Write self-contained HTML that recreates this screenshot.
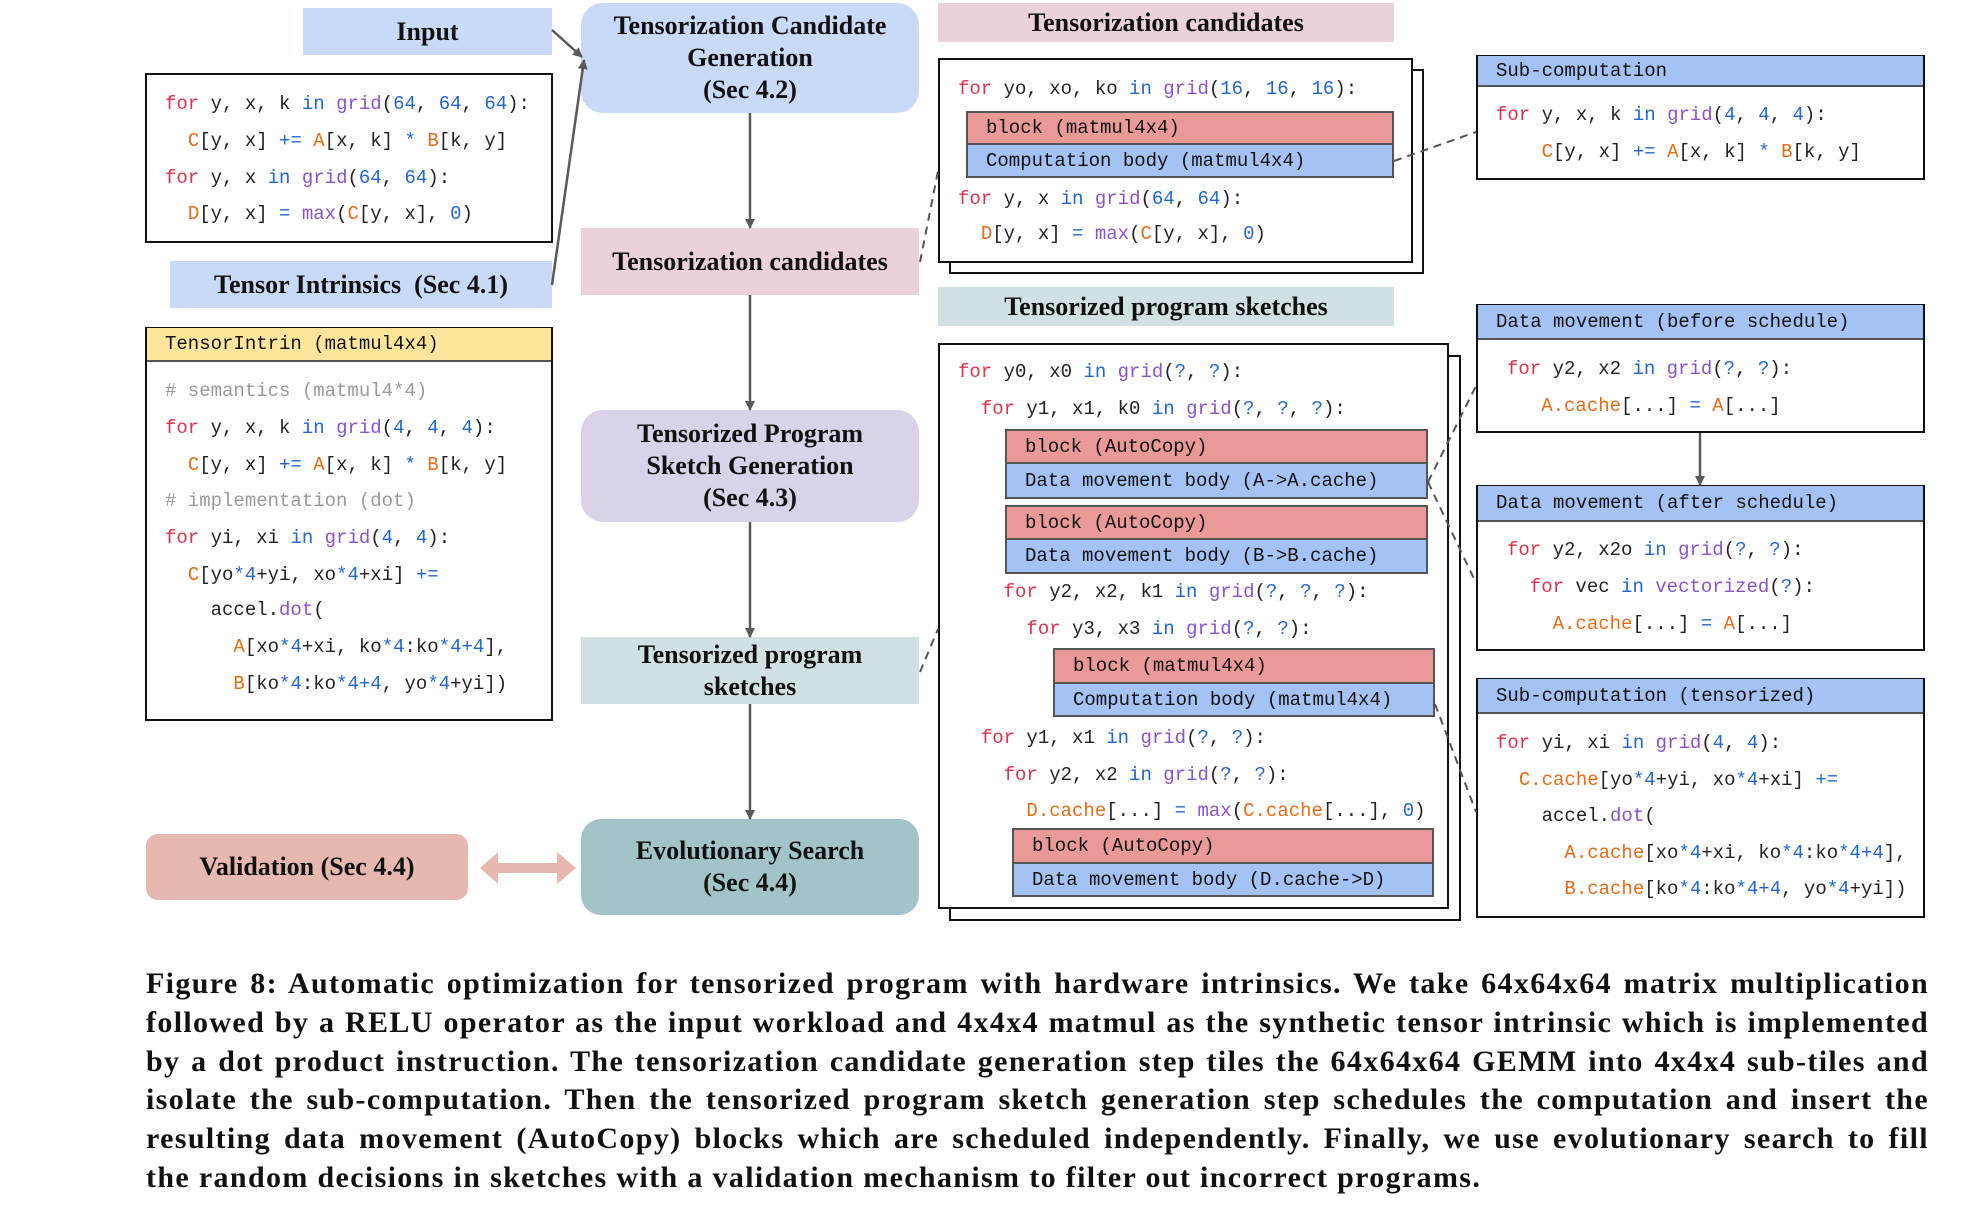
<!DOCTYPE html>
<html><head><meta charset="utf-8">
<style>
*{margin:0;padding:0;box-sizing:border-box}
body{width:1983px;height:1218px;background:#fff;position:relative;overflow:hidden;font-family:"Liberation Serif",serif}
.a{position:absolute}
.lbl{position:absolute;display:flex;align-items:center;justify-content:center;text-align:center;font-family:"Liberation Serif",serif;font-weight:bold;font-size:26px;line-height:32px;color:#111}
.box{position:absolute;border:2.5px solid #111;background:#fff}
.l{position:absolute;height:24px;line-height:24px;white-space:pre;font-family:"Liberation Mono",monospace;font-size:19px;color:#222}
.blk{position:absolute;border:2.5px solid #555;}
.r{background:#ea9999}.b{background:#a4c2f4}
.row{position:absolute;left:0;right:0;white-space:pre;font-family:"Liberation Mono",monospace;font-size:19px;color:#111;display:flex;align-items:center;padding-left:18px}
.hdr{position:absolute;left:0;right:0;top:0;border-bottom:2.5px solid #555;white-space:pre;font-family:"Liberation Mono",monospace;font-size:19px;color:#111;display:flex;align-items:center;padding-left:18px}
.k{color:#e0304c}.i{color:#1f66d6}.f{color:#8a52d0}.n{color:#1f66d6}.v{color:#ec6a12}.c{color:#9a9a9a}
.cap{position:absolute;left:146px;width:1783px;font-family:"Liberation Serif",serif;font-weight:bold;font-size:30px;letter-spacing:1.35px;line-height:39px;color:#111;text-align:justify;text-align-last:justify;white-space:nowrap}
</style></head><body>

<!-- left column -->
<div class="lbl" style="left:303px;top:8px;width:249px;height:47px;background:#c9daf8">Input</div>
<div class="box" style="left:145px;top:73px;width:408px;height:170px"></div>
<div class="l" style="left:165px;top:92px"><span class="k">for</span> y, x, k <span class="i">in</span> <span class="f">grid</span>(<span class="n">64</span>, <span class="n">64</span>, <span class="n">64</span>):</div>
<div class="l" style="left:165px;top:129px">  <span class="v">C</span>[y, x] <span class="i">+=</span> <span class="v">A</span>[x, k] <span class="i">*</span> <span class="v">B</span>[k, y]</div>
<div class="l" style="left:165px;top:166px"><span class="k">for</span> y, x <span class="i">in</span> <span class="f">grid</span>(<span class="n">64</span>, <span class="n">64</span>):</div>
<div class="l" style="left:165px;top:202px">  <span class="v">D</span>[y, x] <span class="i">=</span> <span class="f">max</span>(<span class="v">C</span>[y, x], <span class="n">0</span>)</div>

<div class="lbl" style="left:170px;top:261px;width:382px;height:47px;background:#c9daf8;white-space:pre">Tensor Intrinsics  (Sec 4.1)</div>

<div class="box" style="left:145px;top:327px;width:408px;height:394px">
 <div class="hdr" style="height:34px;background:#ffe599;top:-1px">TensorIntrin (matmul4x4)</div>
</div>
<div class="l" style="left:165px;top:379px"><span class="c"># semantics (matmul4*4)</span></div>
<div class="l" style="left:165px;top:416px"><span class="k">for</span> y, x, k <span class="i">in</span> <span class="f">grid</span>(<span class="n">4</span>, <span class="n">4</span>, <span class="n">4</span>):</div>
<div class="l" style="left:165px;top:453px">  <span class="v">C</span>[y, x] <span class="i">+=</span> <span class="v">A</span>[x, k] <span class="i">*</span> <span class="v">B</span>[k, y]</div>
<div class="l" style="left:165px;top:489px"><span class="c"># implementation (dot)</span></div>
<div class="l" style="left:165px;top:526px"><span class="k">for</span> yi, xi <span class="i">in</span> <span class="f">grid</span>(<span class="n">4</span>, <span class="n">4</span>):</div>
<div class="l" style="left:165px;top:563px">  <span class="v">C</span>[yo<span class="i">*</span><span class="n">4</span>+yi, xo<span class="i">*</span><span class="n">4</span>+xi] <span class="i">+=</span></div>
<div class="l" style="left:165px;top:598px">    accel.<span class="f">dot</span>(</div>
<div class="l" style="left:165px;top:635px">      <span class="v">A</span>[xo<span class="i">*</span><span class="n">4</span>+xi, ko<span class="i">*</span><span class="n">4</span>:ko<span class="i">*</span><span class="n">4+4</span>],</div>
<div class="l" style="left:165px;top:672px">      <span class="v">B</span>[ko<span class="i">*</span><span class="n">4</span>:ko<span class="i">*</span><span class="n">4+4</span>, yo<span class="i">*</span><span class="n">4</span>+yi])</div>

<div class="lbl" style="left:146px;top:834px;width:322px;height:66px;background:#e6b8af;border-radius:12px">Validation (Sec 4.4)</div>

<!-- middle column -->
<div class="lbl" style="left:581px;top:3px;width:338px;height:110px;background:#c9daf8;border-radius:22px">Tensorization Candidate<br>Generation<br>(Sec 4.2)</div>
<div class="lbl" style="left:581px;top:228px;width:338px;height:67px;background:#ead1dc">Tensorization candidates</div>
<div class="lbl" style="left:581px;top:410px;width:338px;height:112px;background:#d9d2e9;border-radius:22px">Tensorized Program<br>Sketch Generation<br>(Sec 4.3)</div>
<div class="lbl" style="left:581px;top:637px;width:338px;height:67px;background:#d0e0e3">Tensorized program<br>sketches</div>
<div class="lbl" style="left:581px;top:819px;width:338px;height:96px;background:#a2c4c9;border-radius:20px">Evolutionary Search<br>(Sec 4.4)</div>

<!-- right column 2 -->
<div class="lbl" style="left:938px;top:3px;width:456px;height:39px;background:#ead1dc">Tensorization candidates</div>
<div class="box" style="left:949px;top:69px;width:475px;height:205px"></div>
<div class="box" style="left:938px;top:58px;width:475px;height:205px"></div>
<div class="l" style="left:958px;top:77px"><span class="k">for</span> yo, xo, ko <span class="i">in</span> <span class="f">grid</span>(<span class="n">16</span>, <span class="n">16</span>, <span class="n">16</span>):</div>
<div class="blk r" style="left:966px;top:111px;width:428px;height:34px"><div class="row" style="top:0;bottom:0">block (matmul4x4)</div></div>
<div class="blk b" style="left:966px;top:143px;width:428px;height:35px"><div class="row" style="top:0;bottom:0">Computation body (matmul4x4)</div></div>
<div class="l" style="left:958px;top:187px"><span class="k">for</span> y, x <span class="i">in</span> <span class="f">grid</span>(<span class="n">64</span>, <span class="n">64</span>):</div>
<div class="l" style="left:958px;top:222px">  <span class="v">D</span>[y, x] <span class="i">=</span> <span class="f">max</span>(<span class="v">C</span>[y, x], <span class="n">0</span>)</div>

<div class="lbl" style="left:938px;top:287px;width:456px;height:39px;background:#d0e0e3">Tensorized program sketches</div>
<div class="box" style="left:949px;top:355px;width:512px;height:566px"></div>
<div class="box" style="left:938px;top:343px;width:511px;height:566px"></div>
<div class="l" style="left:958px;top:360px"><span class="k">for</span> y0, x0 <span class="i">in</span> <span class="f">grid</span>(<span class="n">?</span>, <span class="n">?</span>):</div>
<div class="l" style="left:958px;top:397px">  <span class="k">for</span> y1, x1, k0 <span class="i">in</span> <span class="f">grid</span>(<span class="n">?</span>, <span class="n">?</span>, <span class="n">?</span>):</div>
<div class="blk r" style="left:1005px;top:429px;width:423px;height:35px"><div class="row" style="top:0;bottom:0">block (AutoCopy)</div></div>
<div class="blk b" style="left:1005px;top:462px;width:423px;height:37px"><div class="row" style="top:0;bottom:0">Data movement body (A-&gt;A.cache)</div></div>
<div class="blk r" style="left:1005px;top:505px;width:423px;height:35px"><div class="row" style="top:0;bottom:0">block (AutoCopy)</div></div>
<div class="blk b" style="left:1005px;top:538px;width:423px;height:36px"><div class="row" style="top:0;bottom:0">Data movement body (B-&gt;B.cache)</div></div>
<div class="l" style="left:958px;top:580px">    <span class="k">for</span> y2, x2, k1 <span class="i">in</span> <span class="f">grid</span>(<span class="n">?</span>, <span class="n">?</span>, <span class="n">?</span>):</div>
<div class="l" style="left:958px;top:617px">      <span class="k">for</span> y3, x3 <span class="i">in</span> <span class="f">grid</span>(<span class="n">?</span>, <span class="n">?</span>):</div>
<div class="blk r" style="left:1053px;top:648px;width:382px;height:36px"><div class="row" style="top:0;bottom:0">block (matmul4x4)</div></div>
<div class="blk b" style="left:1053px;top:682px;width:382px;height:35px"><div class="row" style="top:0;bottom:0">Computation body (matmul4x4)</div></div>
<div class="l" style="left:958px;top:726px">  <span class="k">for</span> y1, x1 <span class="i">in</span> <span class="f">grid</span>(<span class="n">?</span>, <span class="n">?</span>):</div>
<div class="l" style="left:958px;top:763px">    <span class="k">for</span> y2, x2 <span class="i">in</span> <span class="f">grid</span>(<span class="n">?</span>, <span class="n">?</span>):</div>
<div class="l" style="left:958px;top:799px">      <span class="v">D.cache</span>[...] <span class="i">=</span> <span class="f">max</span>(<span class="v">C.cache</span>[...], <span class="n">0</span>)</div>
<div class="blk r" style="left:1012px;top:828px;width:422px;height:36px"><div class="row" style="top:0;bottom:0">block (AutoCopy)</div></div>
<div class="blk b" style="left:1012px;top:862px;width:422px;height:35px"><div class="row" style="top:0;bottom:0">Data movement body (D.cache-&gt;D)</div></div>

<!-- right column 3 -->
<div class="box" style="left:1476px;top:55px;width:449px;height:125px">
 <div class="hdr b" style="height:31px;top:-1px">Sub-computation</div>
</div>
<div class="l" style="left:1496px;top:103px"><span class="k">for</span> y, x, k <span class="i">in</span> <span class="f">grid</span>(<span class="n">4</span>, <span class="n">4</span>, <span class="n">4</span>):</div>
<div class="l" style="left:1496px;top:140px">    <span class="v">C</span>[y, x] <span class="i">+=</span> <span class="v">A</span>[x, k] <span class="i">*</span> <span class="v">B</span>[k, y]</div>

<div class="box" style="left:1476px;top:304px;width:449px;height:129px">
 <div class="hdr b" style="height:35px;top:-1px">Data movement (before schedule)</div>
</div>
<div class="l" style="left:1507px;top:357px"><span class="k">for</span> y2, x2 <span class="i">in</span> <span class="f">grid</span>(<span class="n">?</span>, <span class="n">?</span>):</div>
<div class="l" style="left:1507px;top:394px">   <span class="v">A.cache</span>[...] <span class="i">=</span> <span class="v">A</span>[...]</div>

<div class="box" style="left:1476px;top:485px;width:449px;height:166px">
 <div class="hdr b" style="height:36px;top:-1px">Data movement (after schedule)</div>
</div>
<div class="l" style="left:1507px;top:538px"><span class="k">for</span> y2, x2o <span class="i">in</span> <span class="f">grid</span>(<span class="n">?</span>, <span class="n">?</span>):</div>
<div class="l" style="left:1507px;top:575px">  <span class="k">for</span> vec <span class="i">in</span> <span class="f">vectorized</span>(<span class="n">?</span>):</div>
<div class="l" style="left:1507px;top:612px">    <span class="v">A.cache</span>[...] <span class="i">=</span> <span class="v">A</span>[...]</div>

<div class="box" style="left:1476px;top:678px;width:449px;height:240px">
 <div class="hdr b" style="height:35px;top:-1px">Sub-computation (tensorized)</div>
</div>
<div class="l" style="left:1496px;top:731px"><span class="k">for</span> yi, xi <span class="i">in</span> <span class="f">grid</span>(<span class="n">4</span>, <span class="n">4</span>):</div>
<div class="l" style="left:1496px;top:768px">  <span class="v">C.cache</span>[yo<span class="i">*</span><span class="n">4</span>+yi, xo<span class="i">*</span><span class="n">4</span>+xi] <span class="i">+=</span></div>
<div class="l" style="left:1496px;top:804px">    accel.<span class="f">dot</span>(</div>
<div class="l" style="left:1496px;top:841px">      <span class="v">A.cache</span>[xo<span class="i">*</span><span class="n">4</span>+xi, ko<span class="i">*</span><span class="n">4</span>:ko<span class="i">*</span><span class="n">4+4</span>],</div>
<div class="l" style="left:1496px;top:877px">      <span class="v">B.cache</span>[ko<span class="i">*</span><span class="n">4</span>:ko<span class="i">*</span><span class="n">4+4</span>, yo<span class="i">*</span><span class="n">4</span>+yi])</div>

<!-- connectors -->
<svg class="a" style="left:0;top:0" width="1983" height="1218" viewBox="0 0 1983 1218">
<defs>
<marker id="ah" markerWidth="10" markerHeight="10" refX="9" refY="5" orient="auto" markerUnits="userSpaceOnUse" viewBox="0 0 10 10"><path d="M0,0 L10,5 L0,10 z" fill="#595959"/></marker>
</defs>
<g stroke="#595959" stroke-width="2.5" fill="none">
<line x1="750" y1="113" x2="750" y2="228" marker-end="url(#ah)"/>
<line x1="750" y1="295" x2="750" y2="410" marker-end="url(#ah)"/>
<line x1="750" y1="522" x2="750" y2="637" marker-end="url(#ah)"/>
<line x1="750" y1="704" x2="750" y2="819" marker-end="url(#ah)"/>
<line x1="1700" y1="433" x2="1700" y2="485" marker-end="url(#ah)"/>
<line x1="552" y1="30" x2="582" y2="57" marker-end="url(#ah)"/>
<line x1="552" y1="285" x2="584" y2="60" marker-end="url(#ah)"/>
</g>
<g stroke="#555" stroke-width="2" fill="none" stroke-dasharray="8,6">
<line x1="1394" y1="161" x2="1476" y2="132"/>
<line x1="920" y1="262" x2="938" y2="171"/>
<line x1="920" y1="672" x2="938" y2="629"/>
<line x1="1428" y1="482" x2="1476" y2="386"/>
<line x1="1428" y1="482" x2="1476" y2="583"/>
<line x1="1435" y1="704" x2="1476" y2="812"/>
</g>
<g fill="#e6b8af">
<path d="M480,868 L498,852 L498,863 L557,863 L557,852 L576,868 L557,884 L557,873 L498,873 L498,884 z"/>
</g>
</svg>

<!-- caption -->
<div class="cap" style="top:964px">Figure 8: Automatic optimization for tensorized program with hardware intrinsics. We take 64x64x64 matrix multiplication</div>
<div class="cap" style="top:1003px">followed by a RELU operator as the input workload and 4x4x4 matmul as the synthetic tensor intrinsic which is implemented</div>
<div class="cap" style="top:1042px">by a dot product instruction. The tensorization candidate generation step tiles the 64x64x64 GEMM into 4x4x4 sub-tiles and</div>
<div class="cap" style="top:1080px">isolate the sub-computation. Then the tensorized program sketch generation step schedules the computation and insert the</div>
<div class="cap" style="top:1119px">resulting data movement (AutoCopy) blocks which are scheduled independently. Finally, we use evolutionary search to fill</div>
<div class="cap" style="top:1158px;text-align-last:left">the random decisions in sketches with a validation mechanism to filter out incorrect programs.</div>
</body></html>
